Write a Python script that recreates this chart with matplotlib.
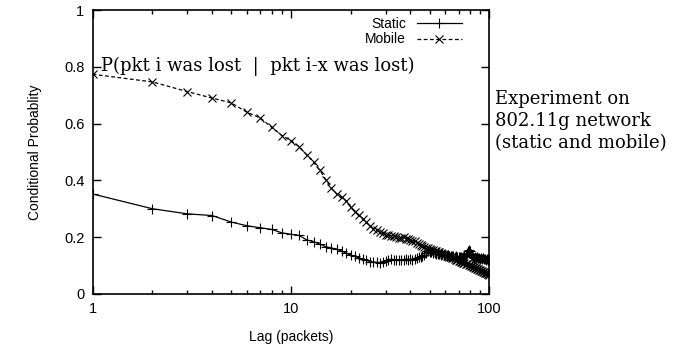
import matplotlib
matplotlib.use("Agg")
import matplotlib.pyplot as plt
import numpy as np

# lag values 1..100 (packets)
lags = list(range(1, 101))

# conditional loss probability
static = [0.352, 0.300, 0.282, 0.276, 0.253, 0.240, 0.233, 0.227, 0.215, 0.210,
          0.206, 0.190, 0.184, 0.175, 0.166, 0.162, 0.157, 0.152, 0.143, 0.137,
          0.132, 0.127, 0.122, 0.118, 0.114, 0.112, 0.111, 0.110, 0.113, 0.117,
          0.120, 0.122, 0.121, 0.120, 0.121, 0.119, 0.120, 0.123, 0.121, 0.122,
          0.121, 0.124, 0.127, 0.129, 0.131, 0.133, 0.138, 0.145, 0.150, 0.148,
          0.146, 0.144, 0.145, 0.142, 0.140, 0.141, 0.138, 0.139, 0.136, 0.137,
          0.135, 0.136, 0.133, 0.134, 0.132, 0.133, 0.131, 0.132, 0.130, 0.131,
          0.129, 0.130, 0.128, 0.131, 0.133, 0.138, 0.145, 0.152, 0.156, 0.150,
          0.140, 0.135, 0.131, 0.128, 0.130, 0.126, 0.129, 0.125, 0.127, 0.124,
          0.126, 0.123, 0.125, 0.122, 0.124, 0.121, 0.123, 0.120, 0.122, 0.121]

mobile = [0.774, 0.747, 0.713, 0.690, 0.673, 0.640, 0.620, 0.587, 0.558, 0.540,
          0.519, 0.490, 0.464, 0.435, 0.402, 0.372, 0.352, 0.340, 0.328, 0.306,
          0.290, 0.277, 0.265, 0.252, 0.240, 0.230, 0.225, 0.219, 0.214, 0.209,
          0.207, 0.205, 0.203, 0.200, 0.198, 0.196, 0.200, 0.195, 0.192, 0.189,
          0.186, 0.185, 0.180, 0.176, 0.172, 0.168, 0.166, 0.163, 0.160, 0.158,
          0.156, 0.155, 0.152, 0.150, 0.148, 0.146, 0.143, 0.141, 0.139, 0.137,
          0.135, 0.133, 0.131, 0.129, 0.127, 0.125, 0.122, 0.120, 0.118, 0.116,
          0.116, 0.113, 0.112, 0.110, 0.108, 0.106, 0.104, 0.108, 0.102, 0.100,
          0.098, 0.097, 0.094, 0.093, 0.091, 0.090, 0.088, 0.086, 0.084, 0.083,
          0.081, 0.080, 0.078, 0.077, 0.075, 0.074, 0.072, 0.071, 0.069, 0.067]

yticks = [0, 0.2, 0.4, 0.6, 0.8, 1]
ytick_labels = ['0', '0.2', '0.4', '0.6', '0.8', '1']

plt.rcParams['font.family'] = ['Liberation Sans', 'DejaVu Sans']

fig = plt.figure(figsize=(6.73, 3.49), dpi=100)
ax = fig.add_axes([0.1377, 0.158, 0.727 - 0.1377, 0.971 - 0.158])

ax.plot(lags, static, color='black', linestyle='-', linewidth=0.9,
        marker='+', markersize=7, markeredgewidth=0.8, label='Static')
ax.plot(lags, mobile, color='black', linestyle=(0, (3, 2)), linewidth=0.9,
        marker='x', markersize=6, markeredgewidth=0.8, label='Mobile')

ax.set_xscale('log')
ax.set_xlim(1, 100)
ax.set_ylim(0, 1)
ax.set_xticks([1, 10, 100])
ax.set_xticklabels(['1', '10', '100'])
ax.set_yticks(yticks)
ax.set_yticklabels(ytick_labels)
ax.tick_params(which='both', direction='in', top=True, right=True,
               labelsize=10.5, width=1, pad=6)
ax.tick_params(which='major', length=6)
ax.tick_params(which='minor', length=3)
for s in ax.spines.values():
    s.set_linewidth(1.2)

ax.set_xlabel('Lag (packets)', fontsize=10, labelpad=10)
ax.set_ylabel('Conditional Probablity', fontsize=10, labelpad=16)

ax.legend(loc='upper right', frameon=False, markerfirst=False, fontsize=10,
          handlelength=3.2, borderaxespad=0.3, labelspacing=0.1,
          bbox_to_anchor=(0.955, 1.01))

ax.text(1.1, 0.8, 'P(pkt i was lost  |  pkt i-x was lost)', family='DejaVu Serif',
        fontsize=13, va='center', ha='left')
fig.text(495 / 673, 1 - 121 / 349, 'Experiment on\n802.11g network\n(static and mobile)',
         family='DejaVu Serif', fontsize=13, va='center', ha='left', linespacing=1.3)

fig.savefig('out.png', dpi=100)
